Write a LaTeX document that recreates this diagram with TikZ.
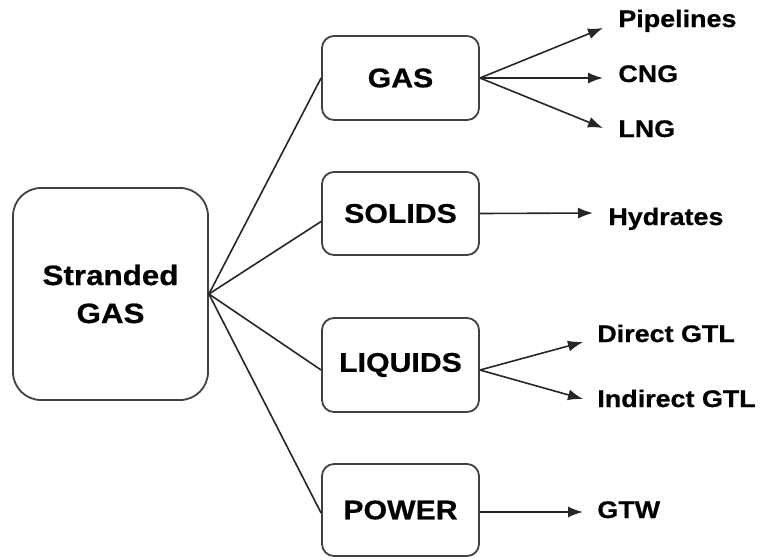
\documentclass[tikz,border=0pt]{standalone}
\usepackage{fontspec}
\setmainfont{Liberation Sans}[FakeStretch=1.12, FakeBold=0.6]
\usetikzlibrary{arrows.meta,positioning}
\tikzset{
    source/.style={draw=black!75, line width=0.9pt, rounded corners=14pt, minimum width=97.5pt, minimum height=106pt, align=center, font=\fontsize{14}{19}\selectfont\bfseries},
    form/.style={draw=black!75, line width=0.9pt, rounded corners=6pt, minimum width=78.5pt, font=\fontsize{13.5}{16}\selectfont\bfseries},
    use/.style={anchor=base west, inner sep=0pt, font=\fontsize{12}{14}\selectfont\bfseries},
    link/.style={draw=black!85, line width=0.8pt},
    route/.style={link, -{Latex[length=7.5pt, width=5.5pt]}}
}

\begin{document}
\begin{tikzpicture}[x=0.5pt, y=-0.5pt]
\useasboundingbox (0,0) rectangle (762,559);

% source and the four forms
\node[source] (src) at (110.5,294) {Stranded\\GAS};
\node[form, minimum height=42pt] (gas) at (400.5,78) {GAS};
\node[form, minimum height=41.5pt] (solids) at (400.5,213.5) {SOLIDS};
\node[form, minimum height=47pt] (liquids) at (400.5,365) {LIQUIDS};
\node[form, minimum height=46pt] (power) at (400.5,510) {POWER};

% end uses
\node[use] (pipe) at (618,27) {Pipelines};
\node[use] (cng) at (618,82) {CNG};
\node[use] (lng) at (618,137) {LNG};
\node[use] (hyd) at (608,225) {Hydrates};
\node[use] (dgtl) at (597,342) {Direct GTL};
\node[use] (igtl) at (597,407) {Indirect GTL};
\node[use] (gtw) at (597,518) {GTW};

\draw[link] (src.east) -- (gas.west);
\draw[link] (src.east) -- ([yshift=-4pt]solids.west);
\draw[link] (src.east) -- ([yshift=-2.5pt]liquids.west);
\draw[link] (src.east) -- ([yshift=-1.5pt]power.west);

\draw[route] (gas.east) -- ([xshift=-7.5pt, yshift=-0.5pt]pipe.base west);
\draw[route] (gas.east) -- ([xshift=-7.5pt, yshift=2pt]cng.base west);
\draw[route] (gas.east) -- ([xshift=-7.5pt, yshift=4.5pt]lng.base west);
\draw[route] (solids.east) -- ([xshift=-7.5pt, yshift=6pt]hyd.base west);
\draw[route] ([yshift=-2.5pt]liquids.east) -- ([xshift=-7pt]dgtl.base west);
\draw[route] ([yshift=-2.5pt]liquids.east) -- ([xshift=-7pt, yshift=4pt]igtl.base west);
\draw[route] ([yshift=-1pt]power.east) -- ([xshift=-7pt, yshift=3pt]gtw.base west);
\end{tikzpicture}
\end{document}
